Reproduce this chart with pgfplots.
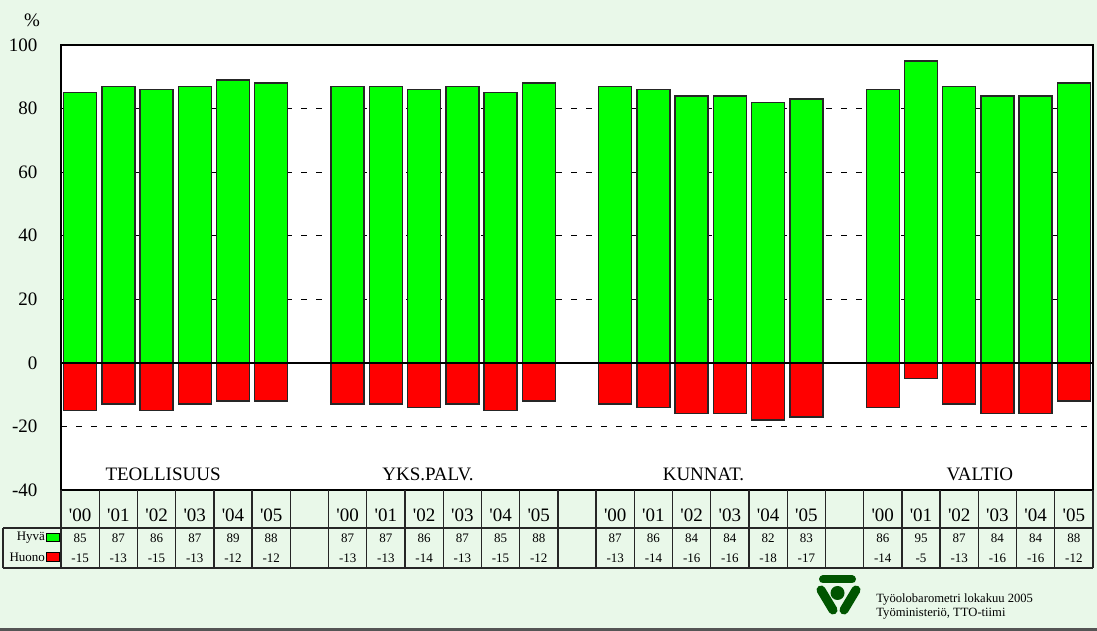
\documentclass[border=0pt]{standalone}
\usepackage{pgfplots}
\pgfplotsset{compat=1.18}
\usepackage{pgfplotstable}
\usepackage{fontspec}
\setmainfont{Liberation Serif}
\definecolor{bg}{RGB}{233,248,233}
\definecolor{barg}{RGB}{0,255,0}
\definecolor{barr}{RGB}{255,0,0}
\definecolor{logo}{RGB}{0,85,0}
\definecolor{framegray}{RGB}{85,85,85}

\pgfplotstableread{
x  hyva huono
0  85 -15
1  87 -13
2  86 -15
3  87 -13
4  89 -12
5  88 -12
7  87 -13
8  87 -13
9  86 -14
10 87 -13
11 85 -15
12 88 -12
14 87 -13
15 86 -14
16 84 -16
17 84 -16
18 82 -18
19 83 -17
21 86 -14
22 95 -5
23 87 -13
24 84 -16
25 84 -16
26 88 -12
}\data

\newcommand{\yr}[1]{\textquotesingle#1}

\begin{document}
\begin{tikzpicture}
\fill[bg] (0,0) rectangle (548.5pt,315.5pt);
\fill[framegray] (0,0) rectangle (548.5pt,1.5pt);
\begin{axis}[
  at={(30.5pt,70.5pt)}, anchor=south west,
  width=516pt, height=222.5pt, scale only axis,
  clip=false,
  axis background/.style={fill=white},
  xmin=-0.5, xmax=26.5, ymin=-40, ymax=100,
  ytick={-40,-20,...,100},
  ymajorgrids,
  grid style={black, line width=0.5pt, dash pattern=on 3pt off 4.5pt},
  xtick={0,1,2,3,4,5,7,8,9,10,11,12,14,15,16,17,18,19,21,22,23,24,25,26},
  xticklabels={\yr{00},\yr{01},\yr{02},\yr{03},\yr{04},\yr{05},
               \yr{00},\yr{01},\yr{02},\yr{03},\yr{04},\yr{05},
               \yr{00},\yr{01},\yr{02},\yr{03},\yr{04},\yr{05},
               \yr{00},\yr{01},\yr{02},\yr{03},\yr{04},\yr{05}},
  x tick label style={anchor=center, yshift=-12.5pt, font=\fontsize{9.5}{11}\selectfont},
  y tick label style={xshift=-8.3pt, font=\fontsize{9.5}{11}\selectfont},
  /pgf/number format/assume math mode=true,
  xtick style={draw=none},
  ytick style={draw=none},
  axis line style={black, line width=0.8pt},
]
\addplot[ybar, bar width=16.5pt, bar shift=0pt, fill=barg, draw=black!85, line width=0.7pt]
  table[x=x, y=hyva] {\data};
\addplot[ybar, bar width=16.5pt, bar shift=0pt, fill=barr, draw=black!85, line width=0.7pt]
  table[x=x, y=huono] {\data};
\draw[black, line width=0.8pt] (axis cs:-0.5,0) -- (axis cs:26.5,0);
% table values
\addplot[draw=none, mark=none, nodes near coords, nodes near coords align=center,
  point meta=\thisrow{hyva},
  every node near coord/.style={font=\fontsize{6.5}{7.5}\selectfont, anchor=center, inner sep=0pt}]
  table[x=x, y expr=-55.2] {\data};
\addplot[draw=none, mark=none, nodes near coords, nodes near coords align=center,
  point meta=\thisrow{huono},
  every node near coord/.style={font=\fontsize{6.5}{7.5}\selectfont, anchor=center, inner sep=0pt}]
  table[x=x, y expr=-61.4] {\data};
% group labels
\node[font=\fontsize{9.5}{11}\selectfont] at (axis cs:2.17,-35.1) {TEOLLISUUS};
\node[font=\fontsize{9.5}{11}\selectfont] at (axis cs:9.10,-35.1) {YKS.PALV.};
\node[font=\fontsize{9.5}{11}\selectfont] at (axis cs:16.31,-35.1) {KUNNAT.};
\node[font=\fontsize{9.5}{11}\selectfont] at (axis cs:23.54,-35.1) {VALTIO};
\end{axis}
% percent sign
\node[font=\fontsize{9.5}{11}\selectfont] at (16pt,305.5pt) {\%};
% table grid
\foreach \k in {0,...,27} {
  \draw[black!85, line width=0.65pt] ({30.5pt+\k*19.1111pt},70.5pt) -- ({30.5pt+\k*19.1111pt},31.5pt);
}
\draw[black!85, line width=0.65pt] (1.5pt,51.5pt) -- (546.5pt,51.5pt);
\draw[black!85, line width=0.65pt] (1.5pt,31.5pt) -- (546.5pt,31.5pt);
\draw[black!85, line width=0.65pt] (1.5pt,51.5pt) -- (1.5pt,31.5pt);
% legend keys
\node[font=\fontsize{6.5}{7.5}\selectfont, anchor=east, inner sep=0pt] at (22.7pt,46.5pt) {Hyvä};
\node[font=\fontsize{6.5}{7.5}\selectfont, anchor=east, inner sep=0pt] at (22.7pt,36.7pt) {Huono};
\filldraw[fill=barg, draw=black, line width=0.5pt] (23pt,48.5pt) rectangle (29.5pt,44.5pt);
\filldraw[fill=barr, draw=black, line width=0.5pt] (23pt,39pt) rectangle (29.5pt,34.5pt);
% logo
\draw[logo, line width=4pt, line cap=round] (411.5pt,25.75pt) -- (426pt,25.75pt);
\fill[logo] (418.75pt,19pt) circle (3.5pt);
\draw[logo, line width=4.5pt, line cap=round] (410.5pt,20.5pt) -- (416.5pt,10.5pt);
\draw[logo, line width=4.5pt, line cap=round] (428pt,20.5pt) -- (422pt,10.5pt);
% footer text
\node[font=\fontsize{6.3}{7.3}\selectfont, anchor=base west, inner sep=0pt] at (438pt,14pt) {Työolobarometri lokakuu 2005};
\node[font=\fontsize{6.3}{7.3}\selectfont, anchor=base west, inner sep=0pt] at (438pt,7pt) {Työministeriö, TTO-tiimi};
\end{tikzpicture}
\end{document}
